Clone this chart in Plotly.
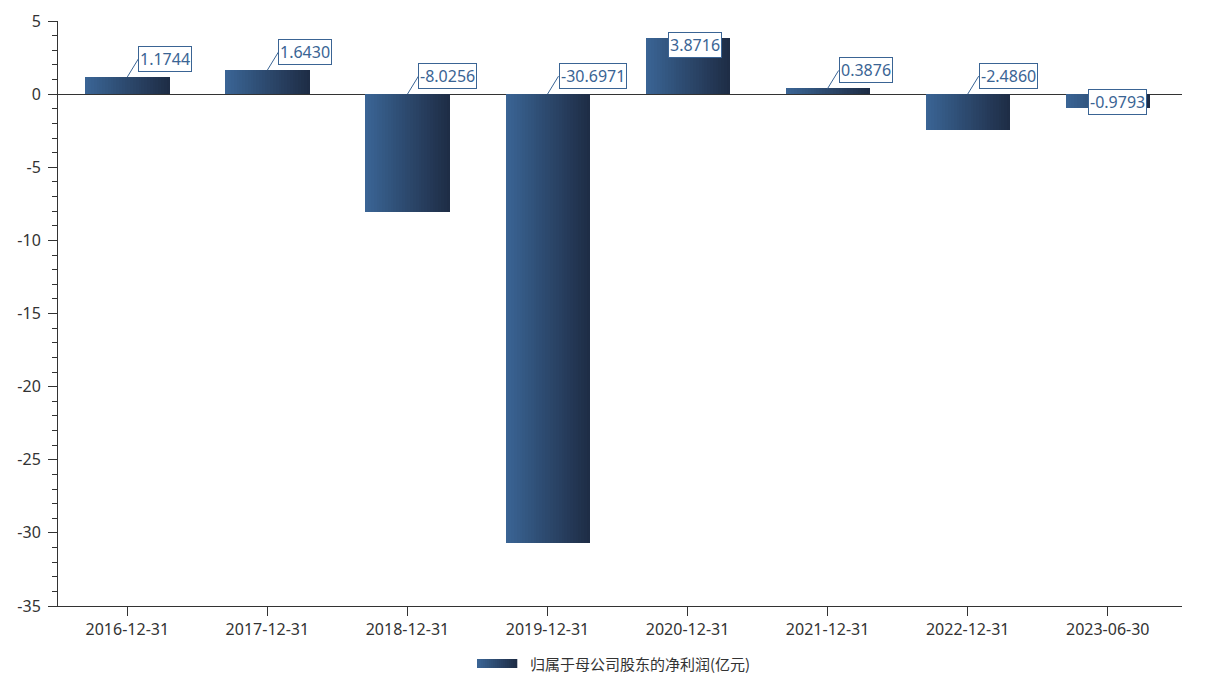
import plotly.graph_objects as go

categories = ["2016-12-31", "2017-12-31", "2018-12-31", "2019-12-31",
              "2020-12-31", "2021-12-31", "2022-12-31", "2023-06-30"]
values = [1.1744, 1.6430, -8.0256, -30.6971, 3.8716, 0.3876, -2.4860, -0.9793]
labels = ["1.1744", "1.6430", "-8.0256", "-30.6971", "3.8716", "0.3876", "-2.4860", "-0.9793"]
series_name = "归属于母公司股东的净利润(亿元)"
y_ticks = [5, 0, -5, -10, -15, -20, -25, -30, -35]

# page has an 8px body margin; work in page pixels and subtract it
OFF = 8
W, H = 1229 - 2 * OFF, 697 - 2 * OFF
PL, PR, PT, PB = 58, 1182, 21, 606   # plot area in page pixels
ML, MT = PL - OFF, PT - OFF
MR = W - (PR - OFF)
MB = H - (PB - OFF)
FONT = "Noto Sans, Noto Sans CJK SC, sans-serif"

c0 = (58, 100, 148)
c1 = (30, 45, 70)
N = 30
bar_w = 0.6


def mix(t):
    return "rgb(%d,%d,%d)" % tuple(round(a + (b - a) * t) for a, b in zip(c0, c1))


fig = go.Figure()
step = bar_w / N
for i in range(N):
    fig.add_trace(go.Bar(
        x=categories, y=values,
        width=step * 1.15, offset=-bar_w / 2 + i * step,
        marker=dict(color=mix(i / (N - 1)), line=dict(width=0)),
        showlegend=False, hoverinfo="skip" if i else "y",
        name=series_name,
    ))

lab_color = "rgb(58,100,148)"
annotations = []
for i, (c, v, t) in enumerate(zip(categories, values, labels)):
    common = dict(text=t, font=dict(family=FONT, size=16, color=lab_color),
                  bordercolor=lab_color, borderwidth=1, borderpad=1, bgcolor="white",
                  xref="x", yref="y", x=c)
    if t == "3.8716":
        annotations.append(dict(common, y=v, showarrow=False, xshift=7, yshift=-7))
    elif t == "-0.9793":
        annotations.append(dict(common, y=v, showarrow=False, xshift=10, yshift=6.5))
    else:
        annotations.append(dict(common, y=max(v, 0), showarrow=True, arrowhead=0,
                                arrowwidth=1, arrowcolor=lab_color, ax=11, ay=-18,
                                xanchor="left", yanchor="middle"))

pw = PR - PL
ph = PB - PT


def px2x(p):
    return (p - PL) / pw


def px2y(p):
    return (PB - p) / ph


shapes = []
LN = 20
lx0, lx1, ly0, ly1 = 477, 517, 659, 668
for i in range(LN):
    xa = lx0 + (lx1 - lx0) * i / LN
    xb = lx0 + (lx1 - lx0) * (i + 1) / LN + 0.3
    shapes.append(dict(type="rect", xref="paper", yref="paper",
                       x0=px2x(xa), x1=px2x(xb), y0=px2y(ly1), y1=px2y(ly0),
                       fillcolor=mix(i / (LN - 1)), line=dict(width=0), layer="above"))
annotations.append(dict(text=series_name, xref="paper", yref="paper",
                        x=px2x(528), y=px2y(663.5), xanchor="left", yanchor="middle",
                        showarrow=False,
                        font=dict(family="Noto Sans CJK SC, sans-serif", size=15, color="#333")))

fig.update_layout(
    width=W, height=H,
    margin=dict(l=ML, r=MR, t=MT, b=MB, pad=0),
    paper_bgcolor="white", plot_bgcolor="white",
    barmode="overlay", bargap=0,
    showlegend=False,
    font=dict(family=FONT, size=16, color="#333"),
    shapes=shapes, annotations=annotations,
    xaxis=dict(type="category", range=[-0.495, 7.53],
               automargin=False,
               showline=True, linecolor="#333", linewidth=1,
               ticks="outside", ticklen=9, tickcolor="#333", tickwidth=1,
               showgrid=False, zeroline=False,
               tickfont=dict(family=FONT, size=16, color="#333")),
    yaxis=dict(range=[-35, 5], tickvals=y_ticks, ticktext=[str(v) for v in y_ticks],
               automargin=False,
               showline=True, linecolor="#333", linewidth=1,
               ticks="outside", ticklen=9, tickcolor="#333", tickwidth=1,
               minor=dict(dtick=1, ticks="outside", ticklen=5, tickcolor="#333",
                          tickwidth=1, showgrid=False),
               showgrid=False, zeroline=True, zerolinecolor="#333", zerolinewidth=1,
               ticklabelstandoff=4,
               tickfont=dict(family=FONT, size=16, color="#333")),
)

fig.write_html("out.html")
